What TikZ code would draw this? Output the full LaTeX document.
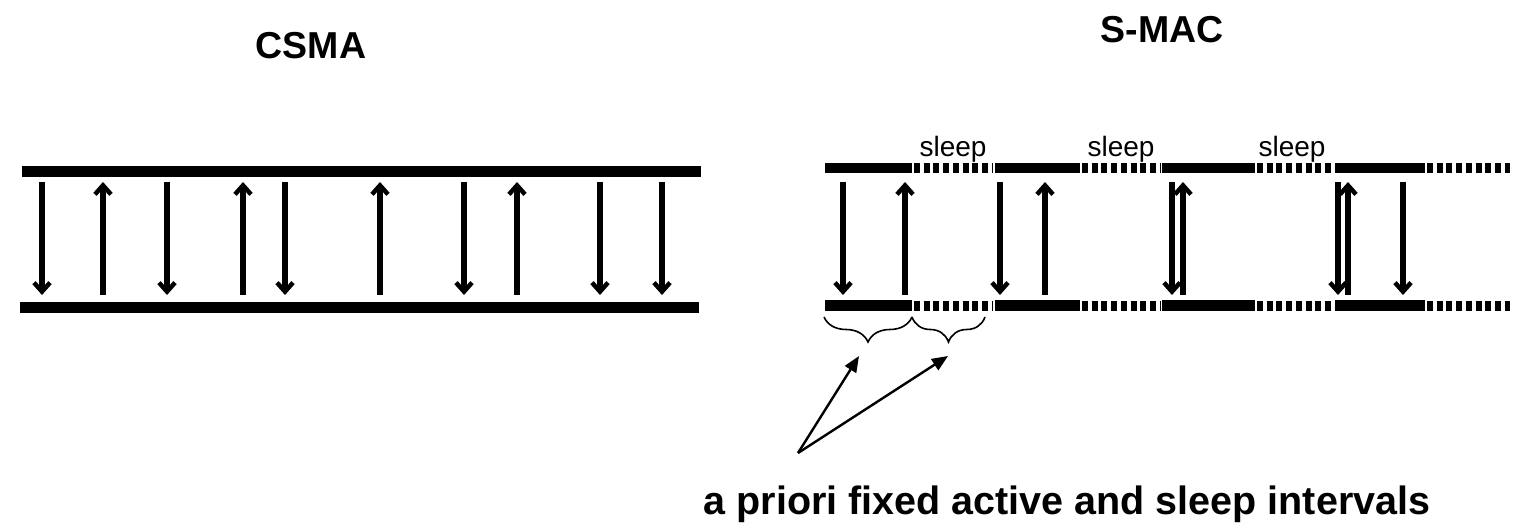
\documentclass[tikz,border=0pt]{standalone}
\usepackage{fontspec}
\setmainfont{Liberation Sans}
\usetikzlibrary{arrows.meta,decorations.pathreplacing}
\begin{document}
\begin{tikzpicture}[x=1pt,y=-1pt,
  bus/.style={line width=11pt},
  sleepbus/.style={line width=10pt,dash pattern=on 6pt off 3.7pt},
  msg/.style={line width=5.5pt,-{Straight Barb[length=9pt,width=16pt,line width=4.5pt]}},
  title/.style={font=\fontsize{37.5}{40}\selectfont\bfseries,anchor=base,inner sep=0pt},
  sleeplbl/.style={font=\fontsize{28}{30}\selectfont,anchor=base,inner sep=0pt},
  caption/.style={font=\fontsize{39.5}{42}\selectfont\bfseries,anchor=base,inner sep=0pt},
  bracestyle/.style={decorate,decoration={brace,mirror,amplitude=25pt},line width=1.6pt},
  pointer/.style={line width=2.4pt,-{Triangle[length=16pt,width=13pt]}}
]
\useasboundingbox[fill=white] (0,0) rectangle (1523,526);

% titles
\node[title] (tcsma) at (311,59) {CSMA};
\node[title] (tsmac) at (1162,43) {S-MAC};

% CSMA buses
\coordinate (cta) at (22,171.5);
\coordinate (ctb) at (701,171.5);
\coordinate (cba) at (20,307.5);
\coordinate (cbb) at (699,307.5);
\draw[bus] (cta) -- (ctb);
\draw[bus] (cba) -- (cbb);

% CSMA messages
\foreach \x [count=\i] in {42,167,285,464,600,662} {
  \coordinate (cd\i a) at (\x,182);
  \coordinate (cd\i b) at (\x,295);
  \draw[msg] (cd\i a) -- (cd\i b);
}
\foreach \x [count=\i] in {103,243,380,517} {
  \coordinate (cu\i a) at (\x,295);
  \coordinate (cu\i b) at (\x,182);
  \draw[msg] (cu\i a) -- (cu\i b);
}

% S-MAC buses: active (solid) and sleep (dashed)
\foreach \a/\b [count=\i] in {825/912,995/1080,1162/1255,1335/1425} {
  \coordinate (sat\i) at (\a,168);
  \coordinate (sbt\i) at (\b,168);
  \coordinate (sab\i) at (\a,306);
  \coordinate (sbb\i) at (\b,306);
  \draw[line width=10pt] (sat\i) -- (sbt\i);
  \draw[line width=11pt] (sab\i) -- (sbb\i);
}
\foreach \a/\b [count=\i] in {914/992,1082/1160,1257/1332,1427/1510} {
  \coordinate (dat\i) at (\a,168);
  \coordinate (dbt\i) at (\b,168);
  \coordinate (dab\i) at (\a,306);
  \coordinate (dbb\i) at (\b,306);
  \draw[sleepbus] (dat\i) -- (dbt\i);
  \draw[sleepbus] (dab\i) -- (dbb\i);
}

% sleep labels
\node[sleeplbl] (sl1) at (953,157) {sleep};
\node[sleeplbl] (sl2) at (1121,157) {sleep};
\node[sleeplbl] (sl3) at (1292,157) {sleep};

% S-MAC messages
\foreach \x [count=\i] in {843,1000,1172,1338,1403} {
  \coordinate (sd\i a) at (\x,182);
  \coordinate (sd\i b) at (\x,295);
  \draw[msg] (sd\i a) -- (sd\i b);
}
\foreach \x [count=\i] in {905,1045,1183,1348} {
  \coordinate (su\i a) at (\x,295);
  \coordinate (su\i b) at (\x,182);
  \draw[msg] (su\i a) -- (su\i b);
}

% braces
\coordinate (br1a) at (824,317);
\coordinate (br1b) at (912,317);
\coordinate (br2a) at (912,317);
\coordinate (br2b) at (985,317);
\draw[bracestyle] (br1a) -- (br1b);
\draw[bracestyle] (br2a) -- (br2b);

% caption and pointers
\node[caption] (cap) at (1067,514) {a priori fixed active and sleep intervals};
\coordinate (src) at (798,453);
\coordinate (tip1) at (859,356);
\coordinate (tip2) at (948,356);
\draw[pointer] (src) -- (tip1);
\draw[pointer] (src) -- (tip2);
\end{tikzpicture}
\end{document}
